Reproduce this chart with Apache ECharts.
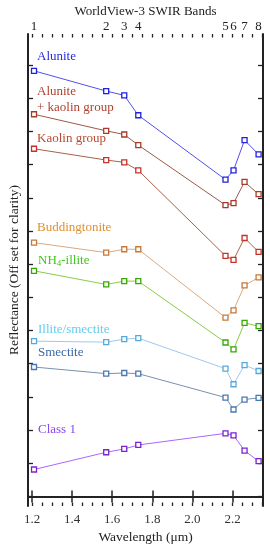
<!DOCTYPE html>
<html><head><meta charset="utf-8">
<script src="https://cdn.jsdelivr.net/npm/echarts@6/dist/echarts.min.js"></script>
<style>html,body{margin:0;padding:0;background:#fff}#c{width:270px;height:550px}</style>
</head><body><div id="c"></div>
<script>
// WorldView-3 SWIR band centres (µm) and band numbers
const wavelengths = [1.21, 1.57, 1.66, 1.73, 2.165, 2.205, 2.26, 2.33];
const bandLabels = ['1', '2', '3', '4', '5', '6', '7', '8'];
const xTickValues = [1.2, 1.4, 1.6, 1.8, 2.0, 2.2];
const yTickValues = [0, 1, 2, 3, 4, 5, 6, 7, 8, 9, 10, 11, 12, 13];

// Reflectance (offset for clarity)
const alunite        = [12.83, 12.22, 12.09, 11.49, 9.55, 9.83, 10.74, 10.31];
const aluniteKaolin  = [11.52, 11.02, 10.91, 10.59, 8.78, 8.84, 9.48, 9.11];
const kaolinGroup    = [10.48, 10.14, 10.07, 9.83, 7.25, 7.13, 7.79, 7.37];
const buddingtonite  = [7.65, 7.35, 7.45, 7.45, 5.39, 5.61, 6.36, 6.60];
const nh4Illite      = [6.80, 6.39, 6.49, 6.49, 4.64, 4.43, 5.23, 5.13];
const illiteSmectite = [4.68, 4.65, 4.74, 4.77, 3.85, 3.38, 3.96, 3.78];
const smectite       = [3.90, 3.70, 3.72, 3.70, 2.98, 2.62, 2.92, 2.97];
const class1         = [0.81, 1.33, 1.43, 1.55, 1.90, 1.84, 1.38, 1.06];

const FONT = '"Liberation Serif", "Times New Roman", serif';
const AX = '#222';

const minorTicks = [];
for (let i = 24; i <= 47; i++) minorTicks.push(+(i * 0.05).toFixed(2));

const styles = [
  { name: 'Alunite', data: alunite, line: '#5050ee', mark: '#2020dd' },
  { name: 'Alunite + kaolin group', data: aluniteKaolin, line: '#9a5a48', mark: '#a83a28' },
  { name: 'Kaolin group', data: kaolinGroup, line: '#a86048', mark: '#c83028' },
  { name: 'Buddingtonite', data: buddingtonite, line: '#d8aa80', mark: '#c87838' },
  { name: 'NH4-illite', data: nh4Illite, line: '#88cc44', mark: '#33aa00' },
  { name: 'Illite/smectite', data: illiteSmectite, line: '#a0c8ec', mark: '#55aadd' },
  { name: 'Smectite', data: smectite, line: '#7890b0', mark: '#4a78b0' },
  { name: 'Class 1', data: class1, line: '#aa66ff', mark: '#7a22d0' }
];

const series = styles.map(s => ({
  name: s.name,
  type: 'line',
  xAxisIndex: 0, yAxisIndex: 0,
  data: wavelengths.map((w, i) => [w, s.data[i]]),
  symbol: 'rect', symbolSize: 5,
  lineStyle: { color: s.line, width: 1 },
  itemStyle: { color: '#fff', borderColor: s.mark, borderWidth: 1.3 },
  emphasis: { disabled: true },
  animation: false
}));

const XMIN = 1.18, XMAX = 2.352, YMIN = -0.29, YMAX = 13.94;
const hidden = { show: false };

const chart = echarts.init(document.getElementById('c'), null, { renderer: 'canvas' });
chart.setOption({
  animation: false,
  grid: { left: 28, right: 7, top: 34, bottom: 44, containLabel: false, outerBoundsMode: 'none' },
  xAxis: [
    { type: 'value', position: 'bottom', min: XMIN, max: XMAX,
      name: 'Wavelength (\u03bcm)', nameLocation: 'middle', nameGap: 24, nameMoveOverlap: false,
      nameTextStyle: { fontFamily: FONT, fontSize: 13.5, color: '#222' },
      axisLine: { show: true, lineStyle: { color: AX, width: 2 } },
      axisTick: { show: true, inside: true, length: 6, customValues: xTickValues, lineStyle: { color: AX, width: 1.5 } },
      axisLabel: { show: true, customValues: xTickValues, formatter: v => v.toFixed(1), fontFamily: FONT, fontSize: 13, color: '#333', margin: 7 },
      splitLine: hidden },
    { type: 'value', position: 'top', min: XMIN, max: XMAX,
      name: 'WorldView-3 SWIR Bands', nameLocation: 'middle', nameGap: 16, nameMoveOverlap: false,
      nameTextStyle: { fontFamily: FONT, fontSize: 13, color: '#222' },
      axisLine: { show: true, lineStyle: { color: AX, width: 2 } },
      axisTick: { show: true, inside: true, length: 6, customValues: xTickValues, lineStyle: { color: AX, width: 1.5 } },
      axisLabel: { show: true, customValues: wavelengths, hideOverlap: false,
        formatter: v => { const i = wavelengths.findIndex(w => Math.abs(w - v) < 1e-6); return i >= 0 ? bandLabels[i] : ''; },
        fontFamily: FONT, fontSize: 13, color: '#222', margin: 1 },
      splitLine: hidden },
    { type: 'value', position: 'bottom', min: XMIN, max: XMAX,
      axisLine: hidden, axisLabel: hidden, splitLine: hidden,
      axisTick: { show: true, inside: true, length: 3.5, customValues: minorTicks, lineStyle: { color: AX, width: 1.3 } } },
    { type: 'value', position: 'top', min: XMIN, max: XMAX,
      axisLine: hidden, axisLabel: hidden, splitLine: hidden,
      axisTick: { show: true, inside: true, length: 3.5, customValues: minorTicks, lineStyle: { color: AX, width: 1.3 } } }
  ],
  yAxis: [
    { type: 'value', position: 'left', min: YMIN, max: YMAX,
      name: 'Reflectance (Off set for clarity)', nameLocation: 'middle', nameGap: 7, nameRotate: 90, nameMoveOverlap: false,
      nameTextStyle: { fontFamily: FONT, fontSize: 13.5, color: '#222' },
      axisLine: { show: true, lineStyle: { color: AX, width: 2 } },
      axisTick: { show: true, inside: true, length: 5, customValues: yTickValues, lineStyle: { color: AX, width: 1.3 } },
      axisLabel: hidden, splitLine: hidden },
    { type: 'value', position: 'right', min: YMIN, max: YMAX,
      axisLine: { show: true, lineStyle: { color: AX, width: 2 } },
      axisTick: { show: true, inside: true, length: 5, customValues: yTickValues, lineStyle: { color: AX, width: 1.3 } },
      axisLabel: hidden, splitLine: hidden }
  ],
  series: series,
  graphic: [
    { type: 'text', x: 37, y: 57, style: { text: 'Alunite', fill: '#2a2ae0', font: '13px ' + FONT, verticalAlign: 'middle' } },
    { type: 'text', x: 37, y: 92, style: { text: 'Alunite', fill: '#b04030', font: '13px ' + FONT, verticalAlign: 'middle' } },
    { type: 'text', x: 37, y: 108, style: { text: '+ kaolin group', fill: '#b04030', font: '13px ' + FONT, verticalAlign: 'middle' } },
    { type: 'text', x: 37, y: 139, style: { text: 'Kaolin group', fill: '#b84a30', font: '13px ' + FONT, verticalAlign: 'middle' } },
    { type: 'text', x: 37, y: 228, style: { text: 'Buddingtonite', fill: '#e09030', font: '13px ' + FONT, verticalAlign: 'middle' } },
    { type: 'text', x: 38, y: 261, style: { text: 'NH{s|4}-illite', fill: '#44c422', font: '13px ' + FONT, verticalAlign: 'middle',
        rich: { s: { fontSize: 9, fontFamily: FONT, fill: '#44c422', padding: [6, 0, 0, 0] } } } },
    { type: 'text', x: 38, y: 330, style: { text: 'Illite/smectite', fill: '#66ccee', font: '13px ' + FONT, verticalAlign: 'middle' } },
    { type: 'text', x: 38, y: 353, style: { text: 'Smectite', fill: '#3a6aaa', font: '13px ' + FONT, verticalAlign: 'middle' } },
    { type: 'text', x: 38, y: 430, style: { text: 'Class 1', fill: '#8848ee', font: '13px ' + FONT, verticalAlign: 'middle' } }
  ]
});
</script>
</body></html>
